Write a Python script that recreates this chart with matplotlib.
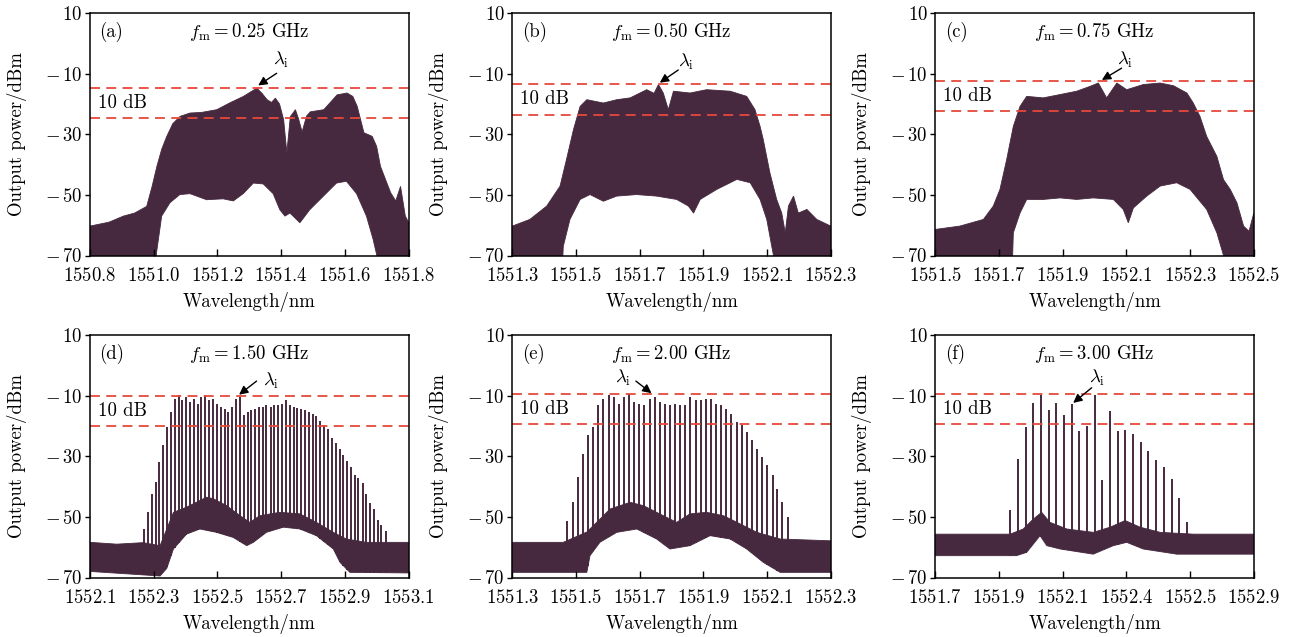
import numpy as np
import matplotlib
matplotlib.use("Agg")
import matplotlib.pyplot as plt

plt.rcParams['font.family'] = 'serif'
plt.rcParams['font.serif'] = ['cmr10']
plt.rcParams['mathtext.fontset'] = 'cm'
plt.rcParams['axes.formatter.use_mathtext'] = True

SPEC = '#46293f'
RED = '#e5493c'

# ---------------- data: panels (a)-(c), dense spectra (upper / lower envelopes)
a_up_wl = [1550.80, 1550.86, 1550.905, 1550.94, 1550.978, 1550.995, 1551.01, 1551.025, 1551.041, 1551.06,
           1551.083, 1551.114, 1551.15, 1551.198, 1551.24, 1551.282, 1551.305, 1551.324, 1551.34, 1551.356,
           1551.37, 1551.382, 1551.395, 1551.408, 1551.418, 1551.429, 1551.445, 1551.455, 1551.466, 1551.48,
           1551.492, 1551.534, 1551.576, 1551.607, 1551.625, 1551.639, 1551.66, 1551.686, 1551.70, 1551.712,
           1551.744, 1551.76, 1551.775, 1551.79, 1551.80]
a_up_pw = [-60.3, -59.0, -57.0, -56.0, -53.8, -47.2, -40.6, -35.0, -30.7, -26.5,
           -24.1, -23.0, -22.8, -21.9, -19.6, -17.5, -16.0, -14.8, -16.5, -18.6,
           -19.5, -18.1, -20.0, -25.2, -36.1, -24.2, -21.9, -25.0, -29.2, -24.0,
           -22.6, -21.9, -17.0, -16.4, -17.5, -20.8, -29.5, -30.7, -34.0, -40.6,
           -49.3, -52.0, -47.2, -57.0, -59.0]
a_lo_wl = [1550.80, 1551.0, 1551.009, 1551.025, 1551.051, 1551.082, 1551.114, 1551.166, 1551.218, 1551.25,
           1551.281, 1551.313, 1551.344, 1551.375, 1551.396, 1551.412, 1551.428, 1551.459, 1551.49, 1551.532,
           1551.574, 1551.605, 1551.637, 1551.668, 1551.689, 1551.705, 1551.80]
a_lo_pw = [-80, -80, -69.0, -57.0, -52.6, -49.9, -49.6, -51.6, -51.3, -52.0,
           -49.6, -46.1, -46.4, -49.6, -54.9, -57.0, -56.0, -59.2, -54.9, -50.5,
           -46.1, -45.5, -49.6, -57.0, -64.7, -72.0, -80]

b_up_wl = [1551.300, 1551.355, 1551.408, 1551.450, 1551.470, 1551.492, 1551.513, 1551.534, 1551.586, 1551.628,
           1551.670, 1551.722, 1551.745, 1551.759, 1551.774, 1551.790, 1551.806, 1551.858, 1551.910, 1551.984,
           1552.036, 1552.062, 1552.078, 1552.088, 1552.109, 1552.130, 1552.146, 1552.157, 1552.167, 1552.183,
           1552.198, 1552.225, 1552.256, 1552.300]
b_up_pw = [-60.3, -58.1, -53.7, -47.1, -38.4, -28.5, -20.8, -18.6, -19.7, -18.6,
           -18.0, -15.3, -16.5, -13.6, -16.4, -21.9, -15.8, -16.4, -15.3, -15.8,
           -17.5, -21.9, -27.4, -31.8, -42.8, -51.5, -56.0, -62.5, -53.7, -50.4,
           -56.0, -54.8, -58.1, -60.3]
b_lo_wl = [1551.300, 1551.455, 1551.460, 1551.481, 1551.513, 1551.544, 1551.586, 1551.628, 1551.690, 1551.753,
           1551.816, 1551.853, 1551.869, 1551.890, 1551.942, 1552.005, 1552.047, 1552.078, 1552.099, 1552.120,
           1552.300]
b_lo_pw = [-80, -80, -67.0, -58.1, -51.5, -49.9, -52.1, -50.4, -49.9, -50.4,
           -51.5, -53.7, -56.0, -51.5, -48.2, -44.9, -46.0, -51.5, -58.1, -70.0,
           -80]

c_up_wl = [1551.500, 1551.577, 1551.651, 1551.682, 1551.703, 1551.724, 1551.745, 1551.766, 1551.787, 1551.839,
           1551.892, 1551.944, 1551.986, 1552.012, 1552.038, 1552.070, 1552.101, 1552.153, 1552.206, 1552.248,
           1552.290, 1552.310, 1552.331, 1552.352, 1552.384, 1552.405, 1552.426, 1552.447, 1552.468, 1552.485,
           1552.500]
c_up_pw = [-61.4, -60.3, -58.1, -53.7, -48.2, -38.4, -27.4, -20.8, -17.5, -18.0,
           -16.9, -15.8, -14.2, -13.1, -18.0, -13.1, -15.3, -13.6, -13.1, -14.0,
           -16.4, -19.7, -24.1, -30.7, -37.3, -45.0, -48.2, -52.6, -60.3, -62.0,
           -56.0]
c_lo_wl = [1551.500, 1551.740, 1551.745, 1551.766, 1551.787, 1551.839, 1551.892, 1551.944, 1551.996, 1552.059,
           1552.090, 1552.106, 1552.122, 1552.164, 1552.206, 1552.258, 1552.300, 1552.352, 1552.384, 1552.405,
           1552.500]
c_lo_pw = [-80, -80, -62.5, -56.0, -51.5, -51.5, -51.0, -51.5, -51.0, -51.5,
           -54.8, -59.2, -54.3, -50.4, -47.1, -46.0, -48.2, -54.8, -62.5, -70.0,
           -80]

# ---------------- data: panels (d)-(f), comb lines + noise floor band
d_line_wl = [1552.270, 1552.281, 1552.294, 1552.306, 1552.318, 1552.330, 1552.342, 1552.354, 1552.366, 1552.378,
             1552.390, 1552.402, 1552.414, 1552.426, 1552.438, 1552.450, 1552.462, 1552.475, 1552.486, 1552.499,
             1552.510, 1552.523, 1552.534, 1552.547, 1552.558, 1552.571, 1552.582, 1552.595, 1552.606, 1552.619,
             1552.630, 1552.643, 1552.654, 1552.667, 1552.679, 1552.691, 1552.703, 1552.715, 1552.727, 1552.739,
             1552.751, 1552.763, 1552.775, 1552.787, 1552.799, 1552.811, 1552.823, 1552.835, 1552.847, 1552.859,
             1552.871, 1552.884, 1552.895, 1552.908, 1552.919, 1552.932, 1552.943, 1552.956, 1552.967, 1552.980,
             1552.991, 1553.004, 1553.015, 1553.028]
d_line_pk = [-54.0, -48.5, -42.4, -38.6, -31.9, -26.4, -20.3, -15.4, -11.0, -9.9,
             -11.5, -10.4, -12.1, -11.0, -12.6, -10.4, -9.9, -11.5, -11.0, -12.6,
             -13.7, -14.3, -15.4, -13.7, -11.0, -10.4, -16.5, -15.4, -14.8, -14.3,
             -13.7, -13.7, -13.2, -13.7, -13.2, -13.2, -12.6, -11.5, -13.0, -13.7,
             -14.0, -14.3, -14.8, -15.4, -16.0, -16.8, -18.5, -19.8, -20.9, -24.0,
             -25.5, -27.5, -29.5, -31.7, -33.5, -36.3, -37.3, -38.8, -42.5, -45.5,
             -47.5, -51.0, -52.6, -54.6]
d_fu_wl = [1552.100, 1552.184, 1552.267, 1552.320, 1552.341, 1552.362, 1552.403, 1552.466, 1552.487, 1552.529,
           1552.571, 1552.602, 1552.633, 1552.696, 1552.759, 1552.811, 1552.864, 1552.905, 1552.968, 1553.100]
d_fu_pw = [-58.4, -59.0, -58.5, -59.5, -54.0, -48.5, -46.8, -43.5, -44.0, -46.3,
           -49.6, -51.8, -49.6, -48.5, -49.0, -51.8, -55.1, -57.3, -58.4, -58.4]
d_fl_wl = [1552.100, 1552.320, 1552.341, 1552.362, 1552.403, 1552.445, 1552.497, 1552.550, 1552.592, 1552.613,
           1552.654, 1552.707, 1552.759, 1552.811, 1552.864, 1552.885, 1552.916, 1553.100]
d_fl_pw = [-68.0, -69.5, -67.0, -60.6, -55.7, -54.0, -55.1, -56.8, -59.5, -58.4,
           -55.1, -53.4, -54.0, -56.2, -60.6, -65.0, -68.3, -68.5]

e_line_wl = [1551.473, 1551.490, 1551.505, 1551.522, 1551.538, 1551.554, 1551.570, 1551.586, 1551.603, 1551.618,
             1551.634, 1551.651, 1551.666, 1551.683, 1551.699, 1551.715, 1551.731, 1551.747, 1551.763, 1551.780,
             1551.795, 1551.811, 1551.828, 1551.843, 1551.859, 1551.876, 1551.892, 1551.907, 1551.924, 1551.940,
             1551.956, 1551.972, 1551.988, 1552.004, 1552.020, 1552.036, 1552.052, 1552.069, 1552.084, 1552.100,
             1552.117, 1552.132, 1552.148, 1552.165]
e_line_pk = [-51.2, -45.2, -36.9, -29.2, -23.1, -20.3, -13.2, -11.0, -9.9, -10.4,
             -12.6, -10.4, -9.5, -12.1, -12.6, -13.2, -11.0, -10.4, -12.1, -12.6,
             -13.2, -12.6, -13.2, -13.2, -10.4, -11.5, -11.5, -11.0, -11.0, -12.6,
             -13.2, -14.3, -15.9, -18.7, -19.8, -22.0, -24.8, -27.5, -30.3, -33.0,
             -36.3, -40.8, -45.2, -50.1]
e_fu_wl = [1551.300, 1551.460, 1551.534, 1551.565, 1551.607, 1551.670, 1551.712, 1551.774, 1551.816, 1551.858,
           1551.910, 1551.963, 1552.015, 1552.068, 1552.141, 1552.300]
e_fu_pw = [-58.4, -58.4, -55.0, -51.8, -47.4, -45.2, -46.3, -49.6, -51.8, -49.0,
           -48.5, -49.6, -52.3, -55.1, -57.3, -57.9]
e_fl_wl = [1551.300, 1551.534, 1551.544, 1551.575, 1551.628, 1551.691, 1551.753, 1551.795, 1551.858, 1551.921,
           1551.984, 1552.036, 1552.088, 1552.141, 1552.300]
e_fl_pw = [-68.3, -68.3, -62.8, -58.4, -55.1, -54.0, -57.3, -60.6, -59.5, -56.2,
           -57.3, -60.6, -65.0, -68.3, -68.3]

f_line_wl = [1551.935, 1551.959, 1551.984, 1552.008, 1552.032, 1552.056, 1552.079, 1552.104, 1552.129, 1552.151,
             1552.176, 1552.202, 1552.224, 1552.249, 1552.273, 1552.296, 1552.320, 1552.345, 1552.368, 1552.393,
             1552.417, 1552.442, 1552.465, 1552.490]
f_line_pk = [-47.7, -30.8, -20.3, -12.4, -9.8, -14.6, -12.4, -16.3, -12.8, -21.8,
             -20.0, -9.9, -37.8, -15.2, -21.8, -21.2, -22.5, -25.3, -28.4, -31.4,
             -33.6, -37.4, -43.7, -51.8]
f_fu_wl = [1551.700, 1551.935, 1551.976, 1552.008, 1552.034, 1552.060, 1552.113, 1552.196, 1552.249, 1552.296,
           1552.343, 1552.406, 1552.510, 1552.700]
f_fu_pw = [-55.7, -55.7, -54.0, -50.7, -48.5, -51.8, -54.0, -55.1, -53.4, -51.2,
           -53.4, -55.1, -55.7, -55.7]
f_fl_wl = [1551.700, 1551.955, 1551.987, 1552.029, 1552.050, 1552.092, 1552.196, 1552.259, 1552.301, 1552.353,
           1552.458, 1552.700]
f_fl_pw = [-62.8, -62.8, -61.7, -56.2, -59.5, -60.6, -62.3, -59.5, -58.4, -60.6,
           -62.3, -62.3]

# ---------------- per-panel labels and annotations
panel_tags = ['(a)', '(b)', '(c)', '(d)', '(e)', '(f)']
fm_labels = ['0.25', '0.50', '0.75', '1.50', '2.00', '3.00']
x_starts = [1550.8, 1551.3, 1551.5, 1552.1, 1551.3, 1551.7]
f_tick_labels = ['1551.7', '1551.9', '1552.1', '1552.4', '1552.5', '1552.9']
y_ticks = [10, -10, -30, -50, -70]
dash_levels = [(-14.8, -24.8), (-13.5, -23.5), (-12.4, -22.4), (-10.0, -20.0), (-9.5, -19.5), (-9.5, -19.5)]
lam_text = [(1551.401, -5.5), (1551.847, -6.0), (1552.096, -5.5), (1552.670, -5.0), (1551.648, -4.3), (1552.207, -4.3)]
lam_tail = [(1551.386, -9.9), (1551.821, -8.8), (1552.085, -8.2), (1552.623, -5.2), (1551.688, -5.2), (1552.191, -7.4)]
lam_tip = [(1551.328, -13.9), (1551.763, -13.0), (1552.023, -12.1), (1552.568, -9.7), (1551.737, -9.2), (1552.133, -12.4)]

fig = plt.figure(figsize=(12.95, 6.37), dpi=100)
W, H = 1295.0, 637.0
col_left = [90.0, 512.3, 935.3]
row_top = [13.0, 335.0]
ax_w, ax_h = 318.5, 242.5

axes = []
for r in range(2):
    for c in range(3):
        ax = fig.add_axes([col_left[c] / W, 1 - (row_top[r] + ax_h) / H, ax_w / W, ax_h / H])
        axes.append(ax)

dense = [(a_up_wl, a_up_pw, a_lo_wl, a_lo_pw),
         (b_up_wl, b_up_pw, b_lo_wl, b_lo_pw),
         (c_up_wl, c_up_pw, c_lo_wl, c_lo_pw)]
combs = [(d_line_wl, d_line_pk, d_fu_wl, d_fu_pw, d_fl_wl, d_fl_pw),
         (e_line_wl, e_line_pk, e_fu_wl, e_fu_pw, e_fl_wl, e_fl_pw),
         (f_line_wl, f_line_pk, f_fu_wl, f_fu_pw, f_fl_wl, f_fl_pw)]

FS = 13.5
for i, ax in enumerate(axes):
    x0 = x_starts[i]
    if i < 3:
        uw, up, lw_, lp = dense[i]
        ax.fill(list(uw) + list(lw_)[::-1], list(up) + list(lp)[::-1], color=SPEC, lw=0.6, ec=SPEC)
    else:
        lwl, lpk, fuw, fup, flw, flp = combs[i - 3]
        ax.fill(list(fuw) + list(flw)[::-1], list(fup) + list(flp)[::-1], color=SPEC, lw=0.6, ec=SPEC)
        base = np.interp(lwl, flw, flp)
        ax.vlines(lwl, base, lpk, color=SPEC, lw=1.4)

    for lvl in dash_levels[i]:
        ax.axhline(lvl, color=RED, lw=1.3, ls=(0, (5.5, 3.5)))

    ax.set_xlim(x0, x0 + 1.0)
    ax.set_ylim(-70, 10)
    ticks = [x0 + 0.2 * k for k in range(6)]
    ax.set_xticks(ticks)
    if i == 5:
        ax.set_xticklabels(['$' + s + '$' for s in f_tick_labels])
    else:
        ax.set_xticklabels(['$%.1f$' % t for t in ticks])
    ax.set_yticks(y_ticks)
    ax.set_yticklabels([('$-\\,%d$' % (-v)) if v < 0 else ('$%d$' % v) for v in y_ticks])
    ax.tick_params(axis='x', direction='in', length=5, width=1, pad=8, labelsize=FS)
    ax.tick_params(axis='y', direction='out', length=3.5, width=1, pad=2, labelsize=FS)
    for sp in ax.spines.values():
        sp.set_linewidth(1.1)

    ax.set_xlabel('Wavelength/nm', fontsize=FS, labelpad=5)
    ax.set_ylabel('Output power/dBm', fontsize=FS, labelpad=13)

    ax.text(0.03, 0.92, panel_tags[i], transform=ax.transAxes, ha='left', va='center', fontsize=FS)
    ax.text(0.5, 0.92, r'$f_\mathrm{m}=%s$ GHz' % fm_labels[i], transform=ax.transAxes,
            ha='center', va='center', fontsize=FS)
    ax.text(x0 + 0.025, sum(dash_levels[i]) / 2.0, '10 dB', ha='left', va='center', fontsize=FS)

    ax.text(lam_text[i][0], lam_text[i][1], r'$\lambda_\mathrm{i}$', ha='center', va='center', fontsize=FS)
    ax.annotate('', xy=lam_tip[i], xytext=lam_tail[i],
                arrowprops=dict(arrowstyle='-|>', color='k', lw=1.0, mutation_scale=13,
                                shrinkA=0, shrinkB=0))

fig.savefig('out.png', dpi=100)
